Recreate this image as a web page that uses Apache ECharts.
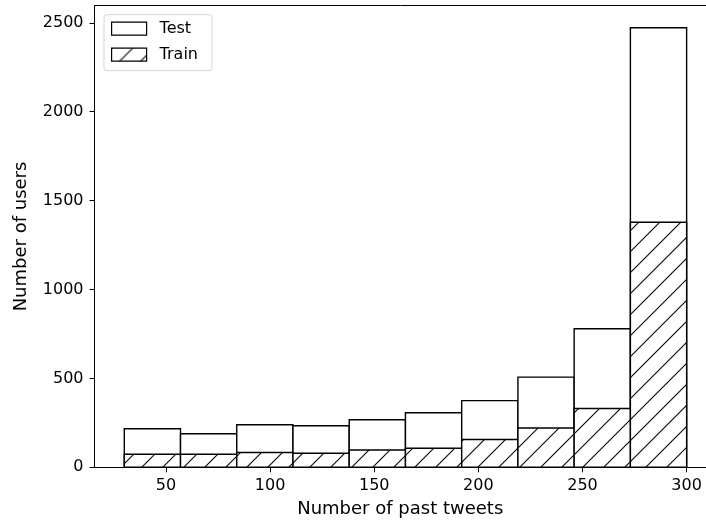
<!DOCTYPE html>
<html>
<head>
<meta charset="utf-8">
<script src="https://cdn.jsdelivr.net/npm/echarts@6/dist/echarts.min.js"></script>
<style>
html,body{margin:0;padding:0;background:#fff;}
#chart{width:706px;height:527px;}
</style>
</head>
<body>
<div id="chart"></div>
<script>
// Histogram bin edges (number of past tweets)
const binEdges = [30, 57, 84, 111, 138, 165, 192, 219, 246, 273, 300];
// Users per bin
const testCounts  = [217, 189, 239, 234, 267, 307, 375, 507, 779, 2472];
const trainCounts = [73, 73, 83, 79, 97, 107, 156, 221, 331, 1378];
// Tick labels
const xTicks = [50, 100, 150, 200, 250, 300];
const yTicks = [0, 500, 1000, 1500, 2000, 2500];
const seriesNames = ['Test', 'Train'];
const axisNames = { x: 'Number of past tweets', y: 'Number of users' };

function makeHatch() {
  const s = 21;
  const c = document.createElement('canvas');
  c.width = s; c.height = s;
  const g = c.getContext('2d');
  g.fillStyle = '#fff';
  g.fillRect(0, 0, s, s);
  g.strokeStyle = '#000';
  g.lineWidth = 1.1;
  for (const off of [-s, 0, s]) {
    g.beginPath();
    g.moveTo(off - 1, s + 1);
    g.lineTo(off + s + 1, -1);
    g.stroke();
  }
  return c;
}
const hatch = { image: makeHatch(), repeat: 'repeat' };

function binData(counts) {
  return counts.map((v, i) => [binEdges[i], binEdges[i + 1], v]);
}

function renderer(fill) {
  return function (params, api) {
    const p0 = api.coord([api.value(0), 0]);
    const p1 = api.coord([api.value(1), api.value(2)]);
    return {
      type: 'rect',
      shape: { x: p0[0], y: p1[1], width: p1[0] - p0[0], height: p0[1] - p1[1] },
      style: { fill: fill, stroke: '#000', lineWidth: 1.4 }
    };
  };
}

const FONT = 'DejaVu Sans';
const X_MIN = 15.7, X_MAX = 309.3;
const chart = echarts.init(document.getElementById('chart'), null, { renderer: 'canvas' });
chart.setOption({
  animation: false,
  backgroundColor: '#fff',
  textStyle: { fontFamily: FONT },
  grid: {
    left: 94.5, top: 5.7, right: 0, height: 461.6,
    show: false, containLabel: false
  },
  legend: {
    left: 104, top: 14.7,
    orient: 'vertical',
    itemWidth: 35, itemHeight: 13, itemGap: 10,
    padding: [6, 14, 8, 7],
    backgroundColor: 'rgba(255,255,255,0.8)',
    borderColor: '#d6d6d6', borderWidth: 1, borderRadius: 3,
    textStyle: { fontFamily: FONT, fontSize: 16, color: '#000', padding: [0, 0, 0, 8] },
    data: [
      { name: seriesNames[0], icon: 'rect', itemStyle: { color: '#fff', borderColor: '#000', borderWidth: 1.2 } },
      { name: seriesNames[1], icon: 'rect', itemStyle: { color: hatch, borderColor: '#000', borderWidth: 1.2 } }
    ]
  },
  xAxis: [{
    type: 'value', min: X_MIN, max: X_MAX,
    name: axisNames.x, nameLocation: 'middle', nameGap: 33,
    nameTextStyle: { fontFamily: FONT, fontSize: 18, color: '#000' },
    axisLine: { show: true, onZero: false, lineStyle: { color: '#000', width: 1 } },
    axisTick: { show: true, length: 5, lineStyle: { color: '#000' }, customValues: xTicks },
    axisLabel: { fontFamily: FONT, fontSize: 16, color: '#000', margin: 11, customValues: xTicks,
                 formatter: v => String(v) },
    splitLine: { show: false }
  }, {
    type: 'value', min: X_MIN, max: X_MAX, position: 'top',
    axisLine: { show: true, onZero: false, lineStyle: { color: '#000', width: 1 } },
    axisTick: { show: false }, axisLabel: { show: false }, splitLine: { show: false }
  }],
  yAxis: {
    type: 'value', min: 0, max: 2596,
    name: axisNames.y, nameLocation: 'middle', nameGap: 64, nameRotate: 90,
    nameTextStyle: { fontFamily: FONT, fontSize: 18, color: '#000' },
    axisLine: { show: true, onZero: false, lineStyle: { color: '#000', width: 1 } },
    axisTick: { show: true, length: 5, lineStyle: { color: '#000' }, customValues: yTicks },
    axisLabel: { fontFamily: FONT, fontSize: 16, color: '#000', margin: 11, customValues: yTicks,
                 formatter: v => String(v) },
    splitLine: { show: false }
  },
  series: [
    {
      name: seriesNames[0], type: 'custom', renderItem: renderer('#fff'),
      encode: { x: [0, 1], y: 2 }, data: binData(testCounts),
      itemStyle: { color: '#fff', borderColor: '#000' }, z: 2
    },
    {
      name: seriesNames[1], type: 'custom', renderItem: renderer(hatch),
      encode: { x: [0, 1], y: 2 }, data: binData(trainCounts),
      itemStyle: { color: '#fff', borderColor: '#000' }, z: 3
    }
  ]
});
</script>
</body>
</html>
